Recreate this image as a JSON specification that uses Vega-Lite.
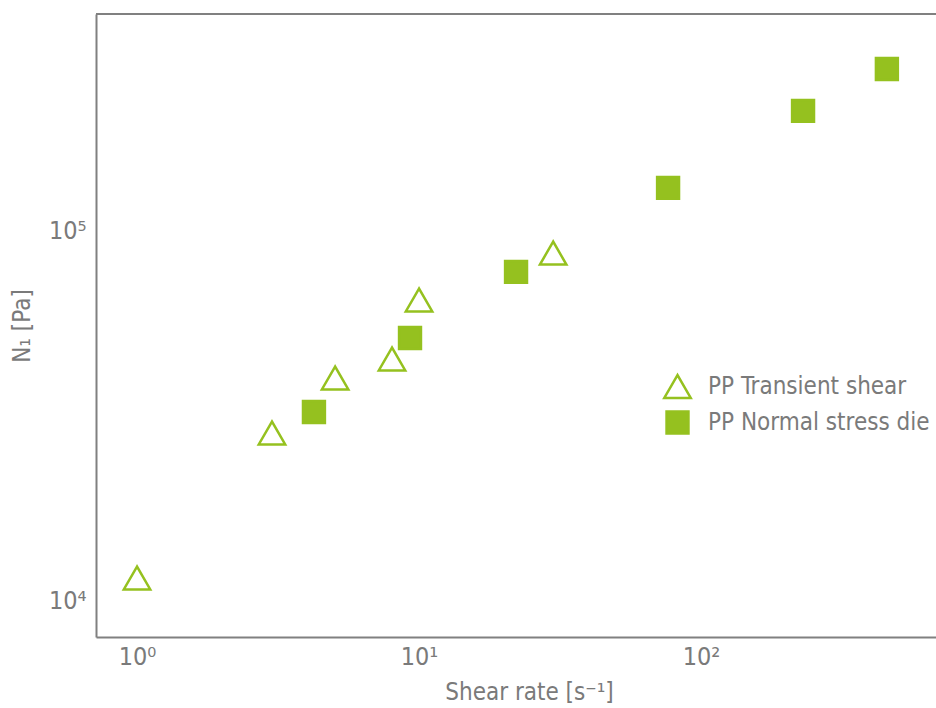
{
  "$schema": "https://vega.github.io/schema/vega-lite/v6.json",
  "width": 840,
  "height": 623,
  "autosize": {"type": "none"},
  "padding": {"left": 96, "top": 14, "right": 0, "bottom": 71},
  "background": "white",
  "config": {
    "view": {"stroke": null},
    "font": "DejaVu Sans Condensed, DejaVu Sans",
    "axis": {
      "domainColor": "#808080",
      "domainWidth": 2,
      "ticks": false,
      "grid": false,
      "labelColor": "#7a7a7a",
      "titleColor": "#7a7a7a",
      "labelFontSize": 25,
      "titleFontSize": 24,
      "labelFont": "DejaVu Sans Condensed, DejaVu Sans",
      "titleFont": "DejaVu Sans Condensed, DejaVu Sans",
      "titleFontWeight": "normal"
    },
    "legend": {"labelFont": "DejaVu Sans Condensed, DejaVu Sans", "labelFontSize": 24, "labelColor": "#7a7a7a", "labelLimit": 0}
  },
  "data": {
    "values": [
      {"rate": 1.0, "n1": 11470, "series": "PP Transient shear"},
      {"rate": 3.01, "n1": 28350, "series": "PP Transient shear"},
      {"rate": 5.04, "n1": 39960, "series": "PP Transient shear"},
      {"rate": 8.02, "n1": 44990, "series": "PP Transient shear"},
      {"rate": 10.0, "n1": 65000, "series": "PP Transient shear"},
      {"rate": 29.9, "n1": 87100, "series": "PP Transient shear"},
      {"rate": 4.24, "n1": 32330, "series": "PP Normal stress die"},
      {"rate": 9.29, "n1": 51290, "series": "PP Normal stress die"},
      {"rate": 22.08, "n1": 77450, "series": "PP Normal stress die"},
      {"rate": 76.4, "n1": 130800, "series": "PP Normal stress die"},
      {"rate": 230, "n1": 211500, "series": "PP Normal stress die"},
      {"rate": 456, "n1": 274700, "series": "PP Normal stress die"}
    ]
  },
  "layer": [
    {
      "mark": {"type": "rule", "color": "#808080", "strokeWidth": 2},
      "encoding": {
        "y": {"datum": 387000, "type": "quantitative", "scale": {"type": "log", "domain": [7940, 387000], "nice": false}}
      }
    },
    {
      "mark": {"type": "point", "opacity": 1, "stroke": "#95c11f", "strokeWidth": 2.5},
      "encoding": {
        "x": {
          "field": "rate", "type": "quantitative",
          "scale": {"type": "log", "domain": [0.7154, 681], "nice": false},
          "axis": {
            "values": [1, 10, 100],
            "labelExpr": "datum.value == 1 ? '10⁰' : datum.value == 10 ? '10¹' : '10²'",
            "labelPadding": 7,
            "title": "Shear rate [s⁻¹]",
            "titlePadding": 11,
            "titleX": 433
          }
        },
        "y": {
          "field": "n1", "type": "quantitative",
          "scale": {"type": "log", "domain": [7940, 387000], "nice": false},
          "axis": {
            "values": [10000, 100000],
            "labelExpr": "datum.value == 10000 ? '10⁴' : '10⁵'",
            "labelPadding": 10,
            "title": "N₁ [Pa]",
            "titlePadding": 14
          }
        },
        "shape": {
          "field": "series", "type": "nominal",
          "scale": {"domain": ["PP Transient shear", "PP Normal stress die"], "range": ["triangle-up", "square"]},
          "legend": {
            "title": null,
            "orient": "none",
            "legendX": 567,
            "legendY": 358,
            "symbolStrokeWidth": 2.5,
            "symbolStrokeColor": "#95c11f",
            "rowPadding": 3,
            "labelOffset": 16,
            "padding": 0
          }
        },
        "fill": {
          "field": "series", "type": "nominal",
          "scale": {"domain": ["PP Transient shear", "PP Normal stress die"], "range": ["#ffffff", "#95c11f"]}
        },
        "size": {"field": "series", "type": "nominal", "scale": {"domain": ["PP Transient shear", "PP Normal stress die"], "range": [700, 480]}}
      }
    }
  ]
}
